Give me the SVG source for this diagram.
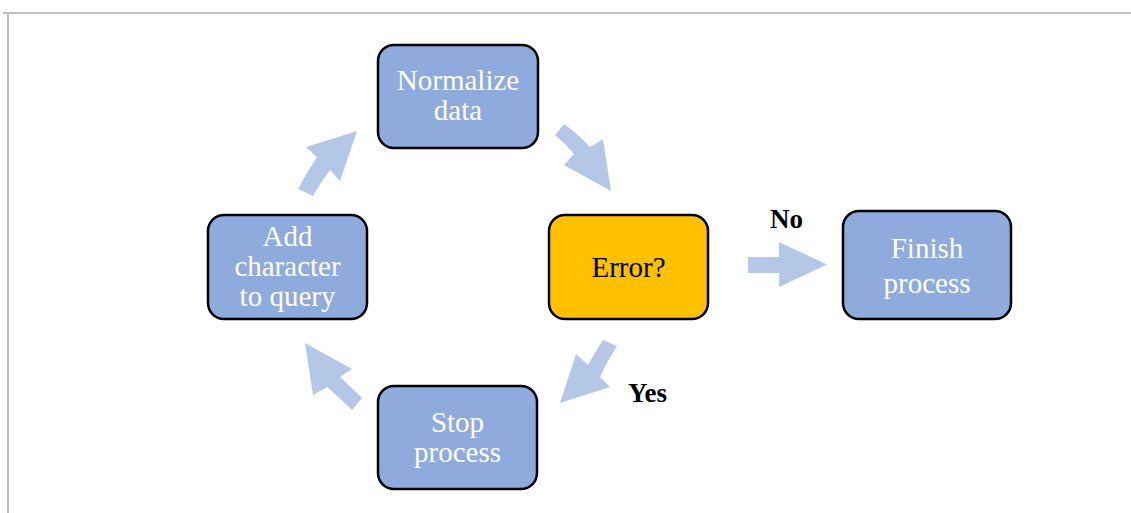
<svg xmlns="http://www.w3.org/2000/svg" width="1131" height="513" viewBox="0 0 1131 513">
  <style>
    .box { fill: #8FAADC; stroke: #000; stroke-width: 2.5; }
    .decision { fill: #FFC000; stroke: #000; stroke-width: 2.5; }
    .label { font-family: "Liberation Serif", "Times New Roman", serif; font-size: 29px; fill: #fff; text-anchor: middle; }
    .dark { fill: #000; }
    .branch { font-family: "Liberation Serif", "Times New Roman", serif; font-size: 27px; font-weight: bold; fill: #000; }
    .flow { fill: #B4C7E7; stroke: none; }
    .frame { stroke: #C0C0C0; stroke-width: 2; fill: none; }
  </style>

  <rect x="0" y="0" width="1131" height="513" fill="#fff"/>
  <!-- page frame -->
  <path class="frame" d="M3 13 H1131 M8 13 V513"/>

  <g id="connectors">
    <!-- Add character -> Normalize -->
    <path class="flow" d="M298 189 Q307 172 317 157 L306 147 L357 131 L340 181 L330 170 Q321 182 313 196 Z"/>
    <!-- Normalize -> Error -->
    <path class="flow" d="M564 124 Q578 134 590 147 L603 139 L611 191 L564 165 L574 154 Q566 144 555 135 Z"/>
    <!-- Error -> Finish -->
    <path class="flow" d="M748 257 H779 V242 L827 264.5 L779 287 V273 H748 Z"/>
    <!-- Error -> Stop -->
    <path class="flow" d="M617 346 Q607 361 600 377 L610 387 L560 403 L576 354 L588 365 Q595 352 603 340 Z"/>
    <!-- Stop -> Add character -->
    <path class="flow" d="M362 398 Q351 387 340 377 L352 369 L305 343 L313 395 L327 387 Q340 398 352 410 Z"/>
    <text class="branch" x="770" y="228">No</text>
    <text class="branch" x="628" y="402">Yes</text>
  </g>

  <g id="normalize">
    <rect class="box" x="378" y="45" width="160" height="103" rx="16"/>
    <text class="label" x="458" y="90">Normalize</text>
    <text class="label" x="458" y="120">data</text>
  </g>

  <g id="add-character">
    <rect class="box" x="208" y="215" width="159" height="104" rx="16"/>
    <text class="label" x="287.5" y="246">Add</text>
    <text class="label" x="287.5" y="276">character</text>
    <text class="label" x="287.5" y="306">to query</text>
  </g>

  <g id="error">
    <rect class="decision" x="549" y="215" width="159" height="104" rx="16"/>
    <text class="label dark" x="628.5" y="277">Error?</text>
  </g>

  <g id="finish">
    <rect class="box" x="843" y="211" width="168" height="108" rx="16"/>
    <text class="label" x="927" y="258">Finish</text>
    <text class="label" x="927" y="293">process</text>
  </g>

  <g id="stop">
    <rect class="box" x="378" y="386" width="159" height="103" rx="16"/>
    <text class="label" x="457.5" y="432">Stop</text>
    <text class="label" x="457.5" y="462">process</text>
  </g>
</svg>
